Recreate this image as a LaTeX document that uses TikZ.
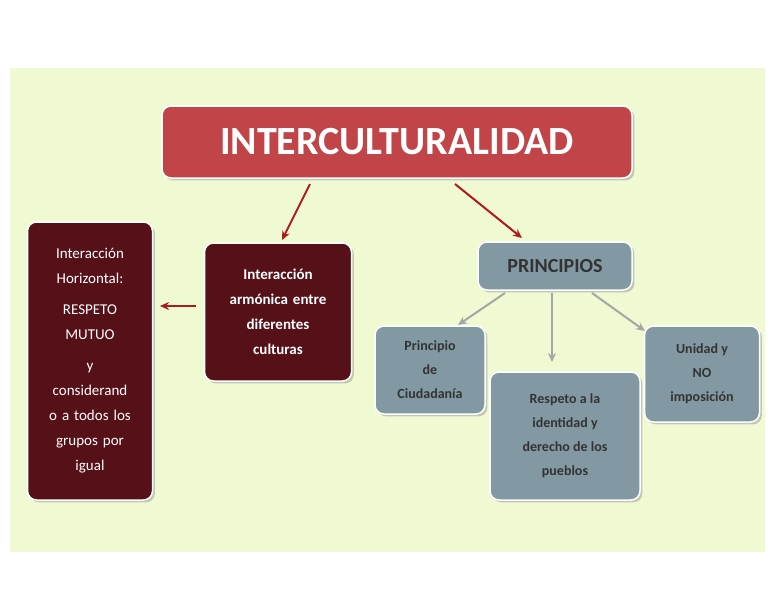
\documentclass[tikz,border=0pt]{standalone}
\usepackage{fontspec}
\setmainfont{Carlito}
\usetikzlibrary{shadows,arrows.meta}
\definecolor{fondo}{HTML}{EFF9D2}
\definecolor{rojo}{HTML}{C04448}
\definecolor{vino}{HTML}{561018}
\definecolor{gris}{HTML}{8299A3}
\definecolor{flecha}{HTML}{B0191E}
\tikzset{
  caja/.style={draw=white, line width=1.5pt, rounded corners=9pt, drop shadow={opacity=0.4}, align=center, inner sep=2pt},
  vinocaja/.style={caja, fill=vino, text=white},
  griscaja/.style={caja, fill=gris, text=black!80, font=\bfseries\fontsize{14}{24}\selectfont},
  rojaflecha/.style={-{Stealth[length=9pt,width=8pt]}, draw=flecha, line width=2pt},
  grisflecha/.style={-{Stealth[length=9pt,width=8pt]}, draw=gray!70, line width=2pt}
}
\begin{document}
\begin{tikzpicture}[x=1pt,y=-1pt]
  \useasboundingbox (0,0) rectangle (772,616);
  \fill[fondo] (10,68) rectangle (765,552);

  \node[vinocaja=, fill=rojo, minimum width=470pt, minimum height=72pt, font=\bfseries\fontsize{40}{44}\selectfont] (titulo) at (397,142) {INTERCULTURALIDAD};
  \node[vinocaja, minimum width=147pt, minimum height=138pt, text width=135pt, font=\bfseries\fontsize{15}{25}\selectfont] (armonica) at (278,312) {Interacción\\armónica entre\\diferentes\\culturas};
  \node[vinocaja, minimum width=125pt, minimum height=278pt, text width=115pt, font=\fontsize{15}{25}\selectfont] (horizontal) at (90,361) {Interacción\\Horizontal:\\[6pt]RESPETO\\MUTUO\\[6pt]y\\considerand\\o a todos los\\grupos por\\igual};
  \node[griscaja, minimum width=154pt, minimum height=48pt, font=\bfseries\fontsize{20}{24}\selectfont] (principios) at (555,266) {PRINCIPIOS};
  \node[griscaja, minimum width=110pt, minimum height=88pt] (ciudadania) at (430,370) {Principio\\de\\Ciudadanía};
  \node[griscaja, minimum width=150pt, minimum height=128pt] (respeto) at (565,436) {Respeto a la\\identidad y\\derecho de los\\pueblos};
  \node[griscaja, minimum width=115pt, minimum height=96pt] (unidad) at (702,374) {Unidad y\\NO\\imposición};

  \coordinate (t1) at (310,184);
  \coordinate (t2) at (455,184);
  \draw[rojaflecha] (t1) -- (282,240);
  \draw[rojaflecha] (t2) -- (522,238);
  \draw[rojaflecha] (armonica.west) ++(-8,-6) -- (160,306);
  \draw[grisflecha] (505,293) -- (458,325);
  \draw[grisflecha] (principios.south) ++(-3,2) -- (552,362);
  \draw[grisflecha] (592,293) -- (645,331);
\end{tikzpicture}
\end{document}
